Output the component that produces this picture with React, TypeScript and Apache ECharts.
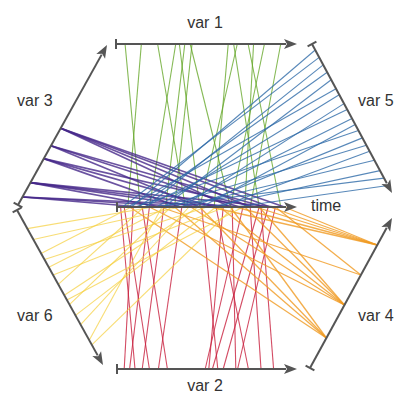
import React, { useEffect, useRef } from "react";
import * as echarts from "echarts";

// Each link: [time value (0-100), variable value (0-100)]
const var1Links: [number, number][] = [
  [13, 5], [6, 14], [38, 23], [18, 33], [46, 35], [27, 38], [63, 41], [32, 42],
  [54, 62], [79, 65], [46, 67], [91, 73], [71, 76], [63, 82], [74, 91],
];
const var2Links: [number, number][] = [
  [9, 4], [18, 7], [2, 10], [26, 14], [4, 18], [36, 23], [14, 28], [70, 49],
  [59, 51], [79, 53], [47, 56], [84, 59], [64, 66], [88, 67], [55, 73], [74, 80], [80, 87],
];
const var3Links: [number, number][] = [
  [63, 48], [74, 48], [85, 48], [93, 48],
  [46, 37], [68, 37], [82, 37],
  [35, 29], [54, 29], [77, 29],
  [24, 14], [46, 14], [63, 14], [88, 14],
  [13, 5], [41, 5], [74, 5],
];
const var4Links: [number, number][] = [
  [52, 82], [66, 82], [77, 82], [85, 82], [93, 82],
  [24, 62], [88, 62],
  [18, 42], [41, 42], [57, 42], [71, 42], [79, 42],
  [7, 20], [32, 20], [46, 20], [63, 20],
];
const var5Links: [number, number][] = [
  [8, 4], [3, 9], [16, 14], [12, 19], [26, 24], [6, 30], [22, 34], [36, 40],
  [15, 44], [32, 50], [47, 54], [10, 58], [42, 63], [25, 68], [57, 72], [35, 78],
  [52, 85], [20, 90], [66, 95],
];
const var6Links: [number, number][] = [
  [20, 12], [35, 19], [8, 28], [50, 32], [28, 37], [60, 42], [15, 48],
  [45, 55], [70, 58], [30, 61], [55, 68], [40, 74], [25, 84], [65, 87],
];

const varNames = ["var 1", "var 2", "var 3", "var 4", "var 5", "var 6"];
const varColors = ["#66a82a", "#c81e3c", "#46288a", "#f09a20", "#2e6aa8", "#f5cf3a"];
const varLinks = [var1Links, var2Links, var3Links, var4Links, var5Links, var6Links];

// Axis geometry (layout, pixel units of the full-canvas grid)
type Pt = [number, number];
const timeAxis: { from: Pt; to: Pt } = { from: [117, 207], to: [297, 207] };
const varAxes: { from: Pt; to: Pt }[] = [
  { from: [116, 44], to: [297, 44] },
  { from: [117, 369], to: [297, 369] },
  { from: [18, 205], to: [107, 45] },
  { from: [310, 368], to: [392, 218] },
  { from: [312, 44], to: [392, 193] },
  { from: [17, 210], to: [103, 365] },
];
const labelPos: { x: number; y: number; align: string }[] = [
  { x: 205, y: 22, align: "center" },
  { x: 205, y: 385, align: "center" },
  { x: 17, y: 100, align: "left" },
  { x: 358, y: 315, align: "left" },
  { x: 358, y: 100, align: "left" },
  { x: 17, y: 315, align: "left" },
];

function pointOn(ax: { from: Pt; to: Pt }, v: number): Pt {
  return [
    ax.from[0] + ((ax.to[0] - ax.from[0]) * v) / 100,
    ax.from[1] + ((ax.to[1] - ax.from[1]) * v) / 100,
  ];
}

const AXIS_COLOR = "#555555";
const FONT = '16px "Liberation Sans", Arial, sans-serif';

function axisGraphics(ax: { from: Pt; to: Pt }) {
  const [x1, y1] = ax.from;
  const [x2, y2] = ax.to;
  const len = Math.hypot(x2 - x1, y2 - y1);
  const dx = (x2 - x1) / len;
  const dy = (y2 - y1) / len;
  const px = -dy;
  const py = dx;
  const al = 13;
  const aw = 5;
  const bx = x2 - dx * al;
  const by = y2 - dy * al;
  const tk = 5;
  return [
    {
      type: "line",
      z: 100,
      shape: { x1, y1, x2: bx + dx * 2, y2: by + dy * 2 },
      style: { stroke: AXIS_COLOR, lineWidth: 2 },
    },
    {
      type: "line",
      z: 100,
      shape: { x1: x1 + px * tk, y1: y1 + py * tk, x2: x1 - px * tk, y2: y1 - py * tk },
      style: { stroke: AXIS_COLOR, lineWidth: 2 },
    },
    {
      type: "polygon",
      z: 100,
      shape: {
        points: [
          [x2, y2],
          [bx + px * aw, by + py * aw],
          [bx + dx * 3, by + dy * 3],
          [bx - px * aw, by - py * aw],
        ],
      },
      style: { fill: AXIS_COLOR },
    },
  ];
}

export default function App() {
  const ref = useRef<HTMLDivElement>(null);
  useEffect(() => {
    if (!ref.current) return;
    const chart = echarts.init(ref.current, undefined, { renderer: "svg" });

    const series = varLinks.map((links, i) => ({
      type: "custom",
      name: varNames[i],
      coordinateSystem: "cartesian2d",
      data: links.map((l) => [l[0], l[1]]),
      renderItem: (params: any, api: any) => {
        const t = api.value(0);
        const v = api.value(1);
        const p1 = api.coord(pointOn(timeAxis, t));
        const p2 = api.coord(pointOn(varAxes[i], v));
        return {
          type: "line",
          shape: { x1: p1[0], y1: p1[1], x2: p2[0], y2: p2[1] },
          style: {
            stroke: varColors[i],
            lineWidth: i === 2 ? 1.7 : i === 3 ? 1.3 : 1.1,
            opacity: i === 5 ? 0.7 : 0.8,
          },
        };
      },
    }));

    const graphics: any[] = [];
    varAxes.forEach((ax) => graphics.push(...axisGraphics(ax)));
    graphics.push(...axisGraphics(timeAxis));
    labelPos.forEach((lp, i) => {
      graphics.push({
        type: "text",
        z: 101,
        x: lp.x,
        y: lp.y,
        style: {
          text: varNames[i],
          font: FONT,
          fill: "#333333",
          align: lp.align,
          verticalAlign: "middle",
        },
      });
    });
    graphics.push({
      type: "text",
      z: 101,
      x: 311,
      y: 205,
      style: { text: "time", font: FONT, fill: "#333333", align: "left", verticalAlign: "middle" },
    });

    chart.setOption({
      animation: false,
      backgroundColor: "#ffffff",
      grid: { left: 0, right: 0, top: 0, bottom: 0 },
      xAxis: { type: "value", min: 0, max: 396, show: false },
      yAxis: { type: "value", min: 0, max: 396, inverse: true, show: false },
      series,
      graphic: graphics,
    });
    return () => chart.dispose();
  }, []);
  return (
    <div
      ref={ref}
      style={{ position: "absolute", left: 0, top: 0, width: 396, height: 396 }}
    />
  );
}
